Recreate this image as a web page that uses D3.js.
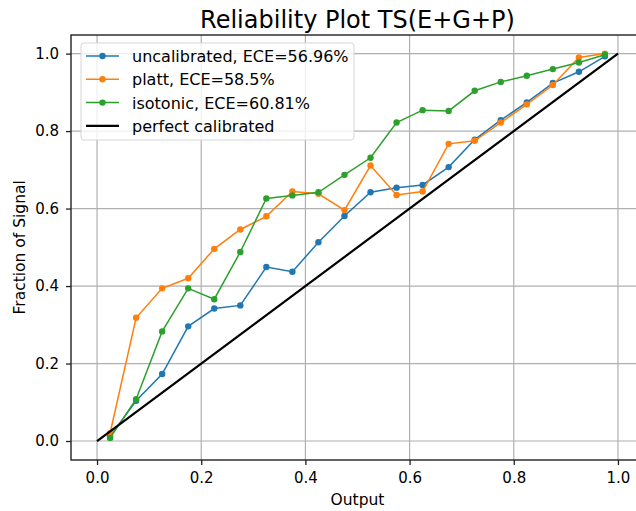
<!DOCTYPE html>
<html>
<head>
<meta charset="utf-8">
<script src="https://cdn.jsdelivr.net/npm/d3@7"></script>
<style>
  body { margin: 0; background: #fff; }
  text { font-family: "DejaVu Sans", sans-serif; }
</style>
</head>
<body>
<div id="chart"></div>
<script>
// bin centres on the x axis
const bins = [0.025, 0.075, 0.125, 0.175, 0.225, 0.275, 0.325, 0.375, 0.425, 0.475,
  0.525, 0.575, 0.625, 0.675, 0.725, 0.775, 0.825, 0.875, 0.925, 0.975];
const uncalibrated = [0.012, 0.104, 0.173, 0.296, 0.342, 0.350, 0.449, 0.437, 0.513, 0.581,
  0.642, 0.654, 0.661, 0.707, 0.778, 0.828, 0.874, 0.924, 0.953, 0.993];
const platt = [0.020, 0.318, 0.394, 0.420, 0.496, 0.546, 0.580, 0.644, 0.638, 0.596,
  0.711, 0.635, 0.644, 0.767, 0.775, 0.822, 0.869, 0.919, 0.990, 1.000];
const isotonic = [0.008, 0.108, 0.283, 0.394, 0.366, 0.488, 0.626, 0.634, 0.642, 0.687,
  0.731, 0.822, 0.854, 0.852, 0.904, 0.927, 0.943, 0.960, 0.977, 0.997];
const perfect = [[0, 0], [1, 1]];
const seriesNames = ['uncalibrated, ECE=56.96%', 'platt, ECE=58.5%', 'isotonic, ECE=60.81%', 'perfect calibrated'];
const ticks = [0, 0.2, 0.4, 0.6, 0.8, 1.0];

const width = 636;
const height = 511;
const margin = { left: 71, top: 35, right: -8, bottom: 51 };

const svg = d3.select('#chart')
  .append('svg')
  .attr('width', width)
  .attr('height', height);

const x = d3.scaleLinear()
  .domain([-0.05, 1.05])
  .range([margin.left, width - margin.right]);

const y = d3.scaleLinear()
  .domain([-0.049, 1.048])
  .range([height - margin.bottom, margin.top]);

// grid
svg.append('g')
  .selectAll('line')
  .data(ticks)
  .enter()
  .append('line')
  .attr('x1', d => x(d)).attr('x2', d => x(d))
  .attr('y1', y.range()[0]).attr('y2', y.range()[1])
  .attr('stroke', '#b0b0b0').attr('stroke-width', 1.2);

svg.append('g')
  .selectAll('line')
  .data(ticks)
  .enter()
  .append('line')
  .attr('y1', d => y(d)).attr('y2', d => y(d))
  .attr('x1', x.range()[0]).attr('x2', x.range()[1])
  .attr('stroke', '#b0b0b0').attr('stroke-width', 1.2);

// axes
const axisX = d3.axisBottom(x).tickValues(ticks).tickFormat(d3.format('.1f')).tickSizeOuter(0).tickSize(5).tickPadding(7);
const axisY = d3.axisLeft(y).tickValues(ticks).tickFormat(d3.format('.1f')).tickSizeOuter(0).tickSize(5).tickPadding(7);

const gx = svg.append('g')
  .attr('transform', 'translate(0,' + y.range()[0] + ')')
  .call(axisX);
const gy = svg.append('g')
  .attr('transform', 'translate(' + x.range()[0] + ',0)')
  .call(axisY);

[gx, gy].forEach(g => {
  g.select('.domain').remove();
  g.selectAll('text').attr('font-size', '15px').attr('fill', '#000').style('font-family', '"DejaVu Sans", sans-serif');
  g.selectAll('line').attr('stroke', '#222').attr('stroke-width', 1.3);
});

// frame
svg.append('rect')
  .attr('x', x.range()[0]).attr('y', y.range()[1])
  .attr('width', x.range()[1] - x.range()[0])
  .attr('height', y.range()[0] - y.range()[1])
  .attr('fill', 'none').attr('stroke', '#222').attr('stroke-width', 1.4);

// series
const series = [
  { values: uncalibrated, color: '#1f77b4' },
  { values: platt, color: '#ff7f0e' },
  { values: isotonic, color: '#2ca02c' },
];

const line = d3.line()
  .x(d => x(d[0]))
  .y(d => y(d[1]));

series.forEach(s => {
  const pts = bins.map((b, i) => [b, s.values[i]]);
  svg.append('path')
    .datum(pts)
    .attr('d', line)
    .attr('fill', 'none')
    .attr('stroke', s.color)
    .attr('stroke-width', 1.5);
  svg.append('g')
    .selectAll('circle')
    .data(pts)
    .enter()
    .append('circle')
    .attr('cx', d => x(d[0]))
    .attr('cy', d => y(d[1]))
    .attr('r', 3.2)
    .attr('fill', s.color);
});

svg.append('path')
  .datum(perfect)
  .attr('d', line)
  .attr('fill', 'none')
  .attr('stroke', '#000')
  .attr('stroke-width', 2.2);

// title and labels
svg.append('text')
  .text('Reliability Plot TS(E+G+P)')
  .attr('x', (x.range()[0] + x.range()[1]) / 2)
  .attr('y', 28)
  .attr('font-size', '24px')
  .attr('text-anchor', 'middle');

svg.append('text')
  .text('Output')
  .attr('x', (x.range()[0] + x.range()[1]) / 2)
  .attr('y', 505)
  .attr('font-size', '15.5px')
  .attr('text-anchor', 'middle');

svg.append('text')
  .text('Fraction of Signal')
  .attr('transform', 'translate(24.5,' + y(0.5) + ') rotate(-90)')
  .attr('font-size', '15.5px')
  .attr('text-anchor', 'middle');

// legend
const legend = svg.append('g').attr('transform', 'translate(81,43)');
legend.append('rect')
  .attr('width', 273).attr('height', 97)
  .attr('rx', 3)
  .attr('fill', '#fff').attr('fill-opacity', 0.8)
  .attr('stroke', '#d6d6d6');

const legendColors = ['#1f77b4', '#ff7f0e', '#2ca02c', '#000'];
seriesNames.forEach((name, i) => {
  const cy = 13 + i * 23.3;
  legend.append('line')
    .attr('x1', 5).attr('x2', 38)
    .attr('y1', cy).attr('y2', cy)
    .attr('stroke', legendColors[i])
    .attr('stroke-width', i === 3 ? 2.2 : 1.5);
  if (i < 3) {
    legend.append('circle')
      .attr('cx', 21.5).attr('cy', cy).attr('r', 3.2)
      .attr('fill', legendColors[i]);
  }
  legend.append('text')
    .text(name)
    .attr('x', 51)
    .attr('y', cy + 6)
    .attr('font-size', '16px');
});
</script>
</body>
</html>
